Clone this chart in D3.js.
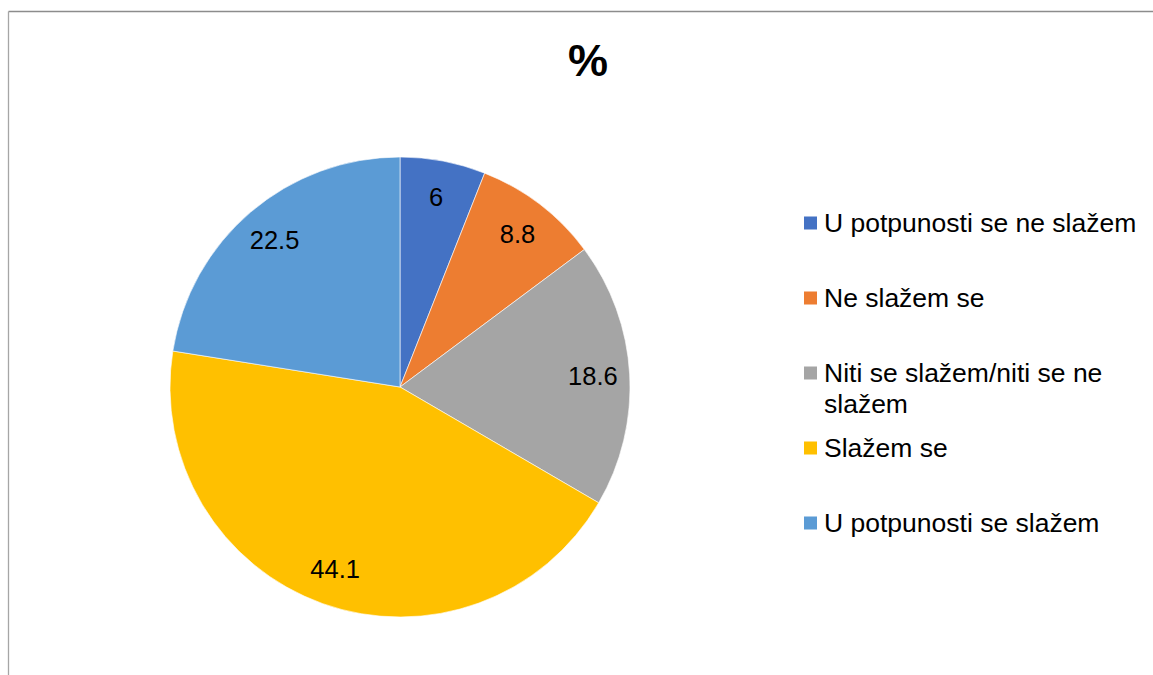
<!DOCTYPE html>
<html>
<head>
<meta charset="utf-8">
<script src="https://cdn.jsdelivr.net/npm/d3@7"></script>
<style>
  html, body { margin: 0; padding: 0; background: #fff; }
  svg { display: block; font-family: "Liberation Sans", Arial, sans-serif; }
</style>
</head>
<body>
<div id="chart"></div>
<script>
// Chart data
const title = '%';
const categories = [
  'U potpunosti se ne slažem',
  'Ne slažem se',
  'Niti se slažem/niti se ne slažem',
  'Slažem se',
  'U potpunosti se slažem'
];
const values = [6, 8.8, 18.6, 44.1, 22.5];
const colors = ['#4472C4', '#ED7D31', '#A5A5A5', '#FFC000', '#5B9BD5'];

const width = 1153;
const height = 675;
const cx = 400;
const cy = 387;
const radius = 230;

const svg = d3.select('#chart')
  .append('svg')
  .attr('width', width)
  .attr('height', height);

// Chart area border (only top and left edges are visible)
svg.append('line')
  .attr('x1', 8.5).attr('y1', 11.5)
  .attr('x2', width).attr('y2', 11.5)
  .attr('stroke', '#8c8c8c')
  .attr('stroke-width', 1.3);
svg.append('line')
  .attr('x1', 8.5).attr('y1', 11.5)
  .attr('x2', 8.5).attr('y2', height)
  .attr('stroke', '#a6a6a6')
  .attr('stroke-width', 1.3);

// Title
svg.append('text')
  .attr('x', 588)
  .attr('y', 76)
  .attr('text-anchor', 'middle')
  .style('font-size', '45px')
  .style('font-weight', 'bold')
  .attr('fill', '#000')
  .text(title);

// Pie
const pie = d3.pie().sort(null).value(d => d);
const arcs = pie(values);
const arc = d3.arc().innerRadius(0).outerRadius(radius);
const labelArc = d3.arc().innerRadius(radius * 0.84).outerRadius(radius * 0.84);

const g = svg.append('g').attr('transform', `translate(${cx},${cy})`);

g.selectAll('path')
  .data(arcs)
  .enter()
  .append('path')
  .attr('d', arc)
  .attr('fill', (d, i) => colors[i])
  .attr('stroke', '#fff')
  .attr('stroke-width', 0.75)
  .attr('stroke-opacity', 0.8);

g.selectAll('text.label')
  .data(arcs)
  .enter()
  .append('text')
  .attr('class', 'label')
  .attr('transform', d => `translate(${labelArc.centroid(d)})`)
  .attr('text-anchor', 'middle')
  .attr('dy', '0.35em')
  .style('font-size', '25.5px')
  .attr('fill', '#000')
  .text(d => d.data);

// Legend
const legendX = 804;
const legendY = 223;
const legendStep = 75;
const lineHeight = 31;
const maxTextWidth = 335;
const textX = 20;
const baseShift = 9; // baseline offset so the cap height centers on the marker

const legend = svg.append('g');

categories.forEach((name, i) => {
  const item = legend.append('g')
    .attr('transform', `translate(${legendX},${legendY + i * legendStep})`);

  item.append('rect')
    .attr('x', 0)
    .attr('y', -6.5)
    .attr('width', 13)
    .attr('height', 13)
    .attr('fill', colors[i]);

  const text = item.append('text')
    .attr('x', textX)
    .attr('y', baseShift)
    .style('font-size', '26.5px')
    .attr('fill', '#000');

  // simple word wrap
  const words = name.split(' ');
  let line = [];
  let tspan = text.append('tspan').attr('x', textX).attr('y', baseShift);
  words.forEach(w => {
    line.push(w);
    tspan.text(line.join(' '));
    if (tspan.node().getComputedTextLength() > maxTextWidth && line.length > 1) {
      line.pop();
      tspan.text(line.join(' '));
      line = [w];
      tspan = text.append('tspan')
        .attr('x', textX)
        .attr('dy', lineHeight)
        .text(w);
    }
  });
});
</script>
</body>
</html>
